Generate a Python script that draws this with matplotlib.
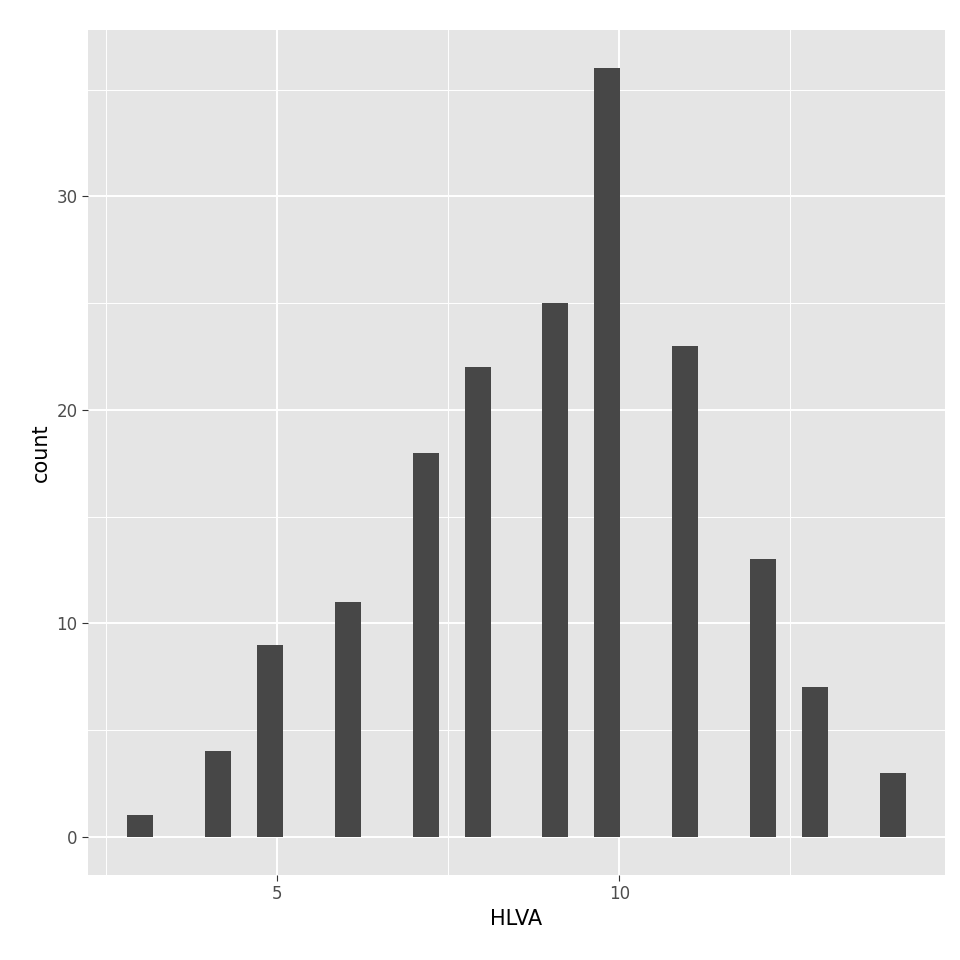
import numpy as np
import matplotlib.pyplot as plt

# HLVA values and how many times each occurs
hlva_values = [3, 4, 5, 6, 7, 8, 9, 10, 11, 12, 13, 14]
hlva_counts = [1, 4, 9, 11, 18, 22, 25, 36, 23, 13, 7, 3]

nbins = 30
lo, hi = min(hlva_values), max(hlva_values)
w = (hi - lo) / (nbins - 1)
edges = np.linspace(lo - w / 2, hi + w / 2, nbins + 1)

fig = plt.figure(figsize=(9.6, 9.6), dpi=100)
ax = fig.add_axes([88 / 960, 85 / 960, (945 - 88) / 960, (945 - 85 - 15 + 15) / 960 - 15 / 960])
ax.set_facecolor('#e5e5e5')
ax.hist(hlva_values, bins=edges, weights=hlva_counts, color='#474747', zorder=3)

span = edges[-1] - edges[0]
ax.set_xlim(edges[0] - 0.05 * span, edges[-1] + 0.05 * span)
ymax = max(hlva_counts)
ax.set_ylim(-0.05 * ymax, 1.05 * ymax)

ax.set_xticks([5, 10])
ax.set_xticks([2.5, 7.5, 12.5], minor=True)
ax.set_yticks([0, 10, 20, 30])
ax.set_yticks([5, 15, 25, 35], minor=True)
ax.grid(which='major', color='white', linewidth=1.4, zorder=0)
ax.grid(which='minor', color='white', linewidth=0.7, zorder=0)
ax.set_axisbelow(True)
for s in ax.spines.values():
    s.set_visible(False)
ax.tick_params(which='major', length=4, color='#333333', labelsize=12, labelcolor='#4d4d4d')
ax.tick_params(which='minor', length=0)
ax.set_xlabel('HLVA', fontsize=15)
ax.set_ylabel('count', fontsize=15)

fig.savefig('out.png', dpi=100)
